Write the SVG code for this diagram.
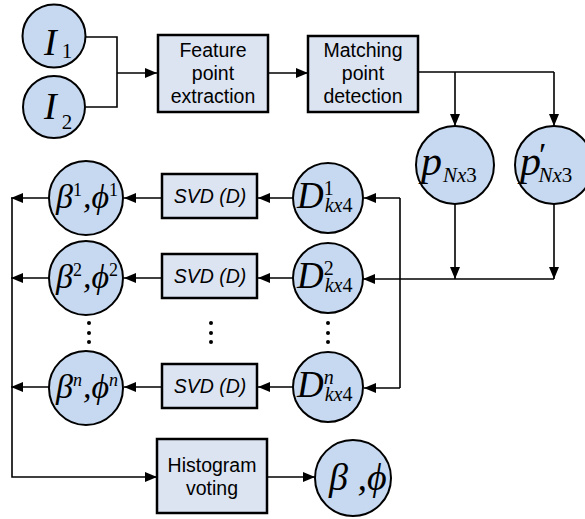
<svg xmlns="http://www.w3.org/2000/svg" width="585" height="519" viewBox="0 0 585 519">
<style>
.c{fill:#c6d9f1;stroke:#000;stroke-width:2}
.b{fill:#dce4f2;stroke:#000;stroke-width:2.5}
.l{fill:none;stroke:#000;stroke-width:1.6}
.t{font-family:"Liberation Sans",Arial,sans-serif;font-size:19.5px;text-anchor:middle;fill:#000}
.ti{font-family:"Liberation Sans",Arial,sans-serif;font-size:19.5px;font-style:italic;text-anchor:middle;fill:#000}
.m{font-family:"Liberation Serif","Times New Roman",serif;font-style:italic;fill:#000}
.r{font-style:normal}
.dot{fill:#000}
</style>
<defs>
<marker id="a" markerUnits="userSpaceOnUse" markerWidth="13" markerHeight="11" refX="12" refY="5" orient="auto">
<path d="M0,0 L12,5 L0,10 z" fill="#000"/>
</marker>
</defs>
<g id="connectors">
<polyline class="l" points="86,37 117,37 117,107 86,107"/>
<line class="l" x1="117" y1="73" x2="157" y2="73" marker-end="url(#a)"/>
<line class="l" x1="268" y1="73" x2="308" y2="73" marker-end="url(#a)"/>
<polyline class="l" points="418,72 554,72"/>
<line class="l" x1="455" y1="72" x2="455" y2="126" marker-end="url(#a)"/>
<line class="l" x1="554" y1="72" x2="554" y2="126" marker-end="url(#a)"/>
<line class="l" x1="455" y1="204" x2="455" y2="279" marker-end="url(#a)"/>
<line class="l" x1="554" y1="204" x2="554" y2="279" marker-end="url(#a)"/>
<line class="l" x1="554" y1="279" x2="363" y2="279" marker-end="url(#a)"/>
<polyline class="l" points="400,198 400,388"/>
<line class="l" x1="400" y1="198" x2="364" y2="198" marker-end="url(#a)"/>
<line class="l" x1="400" y1="388" x2="364" y2="388" marker-end="url(#a)"/>
<line class="l" x1="293" y1="198" x2="258" y2="198" marker-end="url(#a)"/>
<line class="l" x1="293" y1="278" x2="258" y2="278" marker-end="url(#a)"/>
<line class="l" x1="293" y1="387" x2="258" y2="387" marker-end="url(#a)"/>
<line class="l" x1="162" y1="198" x2="124" y2="198" marker-end="url(#a)"/>
<line class="l" x1="162" y1="278" x2="124" y2="278" marker-end="url(#a)"/>
<line class="l" x1="162" y1="387" x2="124" y2="387" marker-end="url(#a)"/>
<line class="l" x1="49" y1="198" x2="11" y2="198" marker-end="url(#a)"/>
<line class="l" x1="49" y1="278" x2="11" y2="278" marker-end="url(#a)"/>
<line class="l" x1="49" y1="387" x2="11" y2="387" marker-end="url(#a)"/>
<polyline class="l" points="12,198 12,477 157,477" marker-end="url(#a)"/>
<line class="l" x1="267" y1="477" x2="315" y2="477" marker-end="url(#a)"/>
</g>
<g id="I1"><circle class="c" cx="54" cy="36" r="31.5"/>
<text class="m" x="44" y="55" font-size="38">I<tspan class="r" font-size="21" dx="5" dy="3">1</tspan></text></g>
<g id="I2"><circle class="c" cx="54" cy="107" r="31"/>
<text class="m" x="44" y="119" font-size="38">I<tspan class="r" font-size="21" dx="5" dy="10">2</tspan></text></g>
<g id="feature"><rect class="b" x="158" y="35" width="110" height="77"/>
<text class="t" x="213" y="57">Feature</text><text class="t" x="213" y="80">point</text><text class="t" x="213" y="103">extraction</text></g>
<g id="matching"><rect class="b" x="308" y="36" width="110" height="76"/>
<text class="t" x="363" y="57">Matching</text><text class="t" x="363" y="80">point</text><text class="t" x="363" y="103">detection</text></g>
<g id="p"><circle class="c" cx="455" cy="165" r="39"/>
<text class="m" x="421" y="175" font-size="42">p<tspan font-size="21" dx="1" dy="7">Nx</tspan><tspan class="r" font-size="21">3</tspan></text></g>
<g id="pprime"><circle class="c" cx="554" cy="165" r="39"/>
<text class="m" x="520" y="175" font-size="42">p<tspan class="r" font-size="34" dx="-2" dy="-9">′</tspan><tspan font-size="21" dx="-8" dy="16">Nx</tspan><tspan class="r" font-size="21">3</tspan></text></g>
<g id="D1"><circle class="c" cx="328" cy="198" r="35"/>
<text class="m" x="297" y="208" font-size="37">D<tspan class="r" font-size="20" dy="-13">1</tspan><tspan font-size="20" dx="-9" dy="17">kx</tspan><tspan class="r" font-size="20">4</tspan></text></g>
<g id="D2"><circle class="c" cx="328" cy="278" r="35"/>
<text class="m" x="297" y="288" font-size="37">D<tspan class="r" font-size="20" dy="-13">2</tspan><tspan font-size="20" dx="-9" dy="17">kx</tspan><tspan class="r" font-size="20">4</tspan></text></g>
<g id="Dn"><circle class="c" cx="328" cy="387" r="35"/>
<text class="m" x="297" y="397" font-size="37">D<tspan font-size="20" dy="-13">n</tspan><tspan font-size="20" dx="-9" dy="17">kx</tspan><tspan class="r" font-size="20">4</tspan></text></g>
<g id="svd1"><rect class="b" x="162" y="174" width="95" height="44"/><text class="ti" x="210" y="203">SVD (D)</text></g>
<g id="svd2"><rect class="b" x="162" y="254" width="95" height="44"/><text class="ti" x="210" y="283">SVD (D)</text></g>
<g id="svdn"><rect class="b" x="162" y="364" width="95" height="44"/><text class="ti" x="210" y="393">SVD (D)</text></g>
<g id="b1"><circle class="c" cx="86" cy="198" r="37"/>
<text class="m" x="56" y="208" font-size="34">β<tspan class="r" font-size="18" dy="-12">1</tspan><tspan font-size="34" dx="1" dy="12">,ϕ</tspan><tspan class="r" font-size="18" dy="-12">1</tspan></text></g>
<g id="b2"><circle class="c" cx="86" cy="278" r="37"/>
<text class="m" x="56" y="288" font-size="34">β<tspan class="r" font-size="18" dy="-12">2</tspan><tspan font-size="34" dx="1" dy="12">,ϕ</tspan><tspan class="r" font-size="18" dy="-12">2</tspan></text></g>
<g id="bn"><circle class="c" cx="86" cy="388" r="37"/>
<text class="m" x="56" y="398" font-size="34">β<tspan font-size="18" dy="-12">n</tspan><tspan font-size="34" dx="1" dy="12">,ϕ</tspan><tspan font-size="18" dy="-12">n</tspan></text></g>
<g id="dots">
<circle class="dot" cx="89" cy="323" r="2"/><circle class="dot" cx="89" cy="333" r="2"/><circle class="dot" cx="89" cy="342" r="2"/>
<circle class="dot" cx="211" cy="323" r="2"/><circle class="dot" cx="211" cy="333" r="2"/><circle class="dot" cx="211" cy="342" r="2"/>
<circle class="dot" cx="328" cy="323" r="2"/><circle class="dot" cx="328" cy="333" r="2"/><circle class="dot" cx="328" cy="342" r="2"/>
</g>
<g id="histogram"><rect class="b" x="157" y="439" width="110" height="74"/>
<text class="t" x="212" y="472">Histogram</text><text class="t" x="212" y="495">voting</text></g>
<g id="result"><circle class="c" cx="353" cy="478" r="38"/>
<text class="m" x="329" y="490" font-size="38">β ,ϕ</text></g>
</svg>
